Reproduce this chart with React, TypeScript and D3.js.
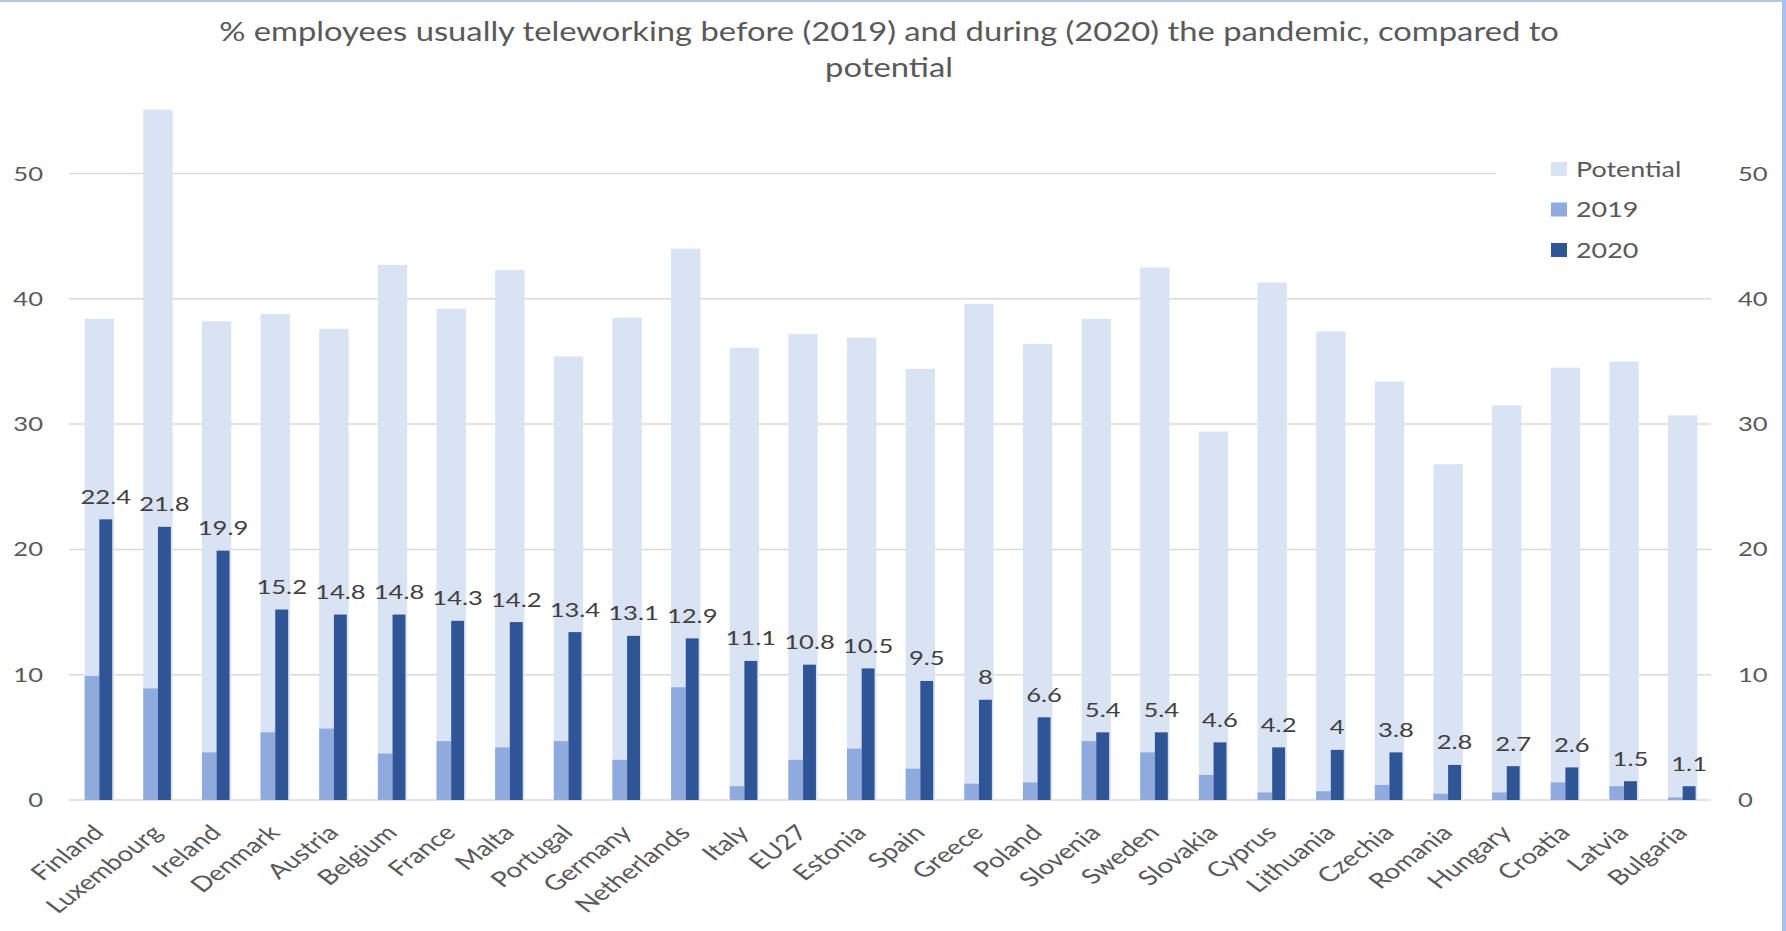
import React from "react";
import * as d3 from "d3";

// Share of employees teleworking, by country
const countries = [
  "Finland", "Luxembourg", "Ireland", "Denmark", "Austria", "Belgium", "France",
  "Malta", "Portugal", "Germany", "Netherlands", "Italy", "EU27", "Estonia",
  "Spain", "Greece", "Poland", "Slovenia", "Sweden", "Slovakia", "Cyprus",
  "Lithuania", "Czechia", "Romania", "Hungary", "Croatia", "Latvia", "Bulgaria",
];

const potential = [
  38.4, 55.1, 38.2, 38.8, 37.6, 42.7, 39.2, 42.3, 35.4, 38.5, 44.0, 36.1, 37.2, 36.9,
  34.4, 39.6, 36.4, 38.4, 42.5, 29.4, 41.3, 37.4, 33.4, 26.8, 31.5, 34.5, 35.0, 30.7,
];

const y2019 = [
  9.9, 8.9, 3.8, 5.4, 5.7, 3.7, 4.7, 4.2, 4.7, 3.2, 9.0, 1.1, 3.2, 4.1,
  2.5, 1.3, 1.4, 4.7, 3.8, 2.0, 0.6, 0.7, 1.2, 0.5, 0.6, 1.4, 1.1, 0.2,
];

const y2020 = [
  22.4, 21.8, 19.9, 15.2, 14.8, 14.8, 14.3, 14.2, 13.4, 13.1, 12.9, 11.1, 10.8, 10.5,
  9.5, 8, 6.6, 5.4, 5.4, 4.6, 4.2, 4, 3.8, 2.8, 2.7, 2.6, 1.5, 1.1,
];

const yTicks = [0, 10, 20, 30, 40, 50];

const titleLines = [
  "% employees usually teleworking before (2019) and during (2020) the pandemic, compared to",
  "potential",
];

const legendItems = ["Potential", "2019", "2020"];

const COLORS = {
  Potential: "#dae3f3",
  "2019": "#8faadc",
  "2020": "#2f5597",
};

const W = 1786;
const H = 931;
const FONT = "Lato, 'Open Sans', sans-serif";
const SX = 1.28; // horizontal text stretch
const TEXT = "#595959";

export default function App() {
  const x = d3.scaleBand<string>()
    .domain(countries)
    .range([70, 1712])
    .paddingInner(0.5)
    .paddingOuter(0.25);

  const y = d3.scaleLinear().domain([0, 50]).range([800, 173.5]);
  const bw = x.bandwidth();

  const gridLeft = 69;
  const gridRight = 1711;

  return (
    <svg
      width={W}
      height={H}
      style={{ position: "absolute", left: 0, top: 0, display: "block", background: "#fff" }}
      fontFamily={FONT}
    >
      <rect x={0} y={0} width={W} height={H} fill="#fff" />

      {/* title */}
      {titleLines.map((line, i) => (
        <text
          key={i}
          transform={`translate(889,${40.5 + i * 36.5}) scale(1.26,1)`}
          textAnchor="middle"
          fontSize={26}
          fill={TEXT}
        >
          {line}
        </text>
      ))}

      {/* gridlines */}
      {yTicks.map((t) => (
        <line
          key={t}
          x1={gridLeft}
          x2={gridRight}
          y1={y(t)}
          y2={y(t)}
          stroke="#d9d9d9"
          strokeWidth={1.5}
        />
      ))}

      {/* bars */}
      {countries.map((c, i) => {
        const x0 = x(c)!;
        return (
          <g key={c}>
            <rect x={x0} y={y(potential[i])} width={bw} height={y(0) - y(potential[i])} fill={COLORS.Potential} />
            <rect x={x0} y={y(y2019[i])} width={bw / 2} height={y(0) - y(y2019[i])} fill={COLORS["2019"]} />
            <rect x={x0 + bw / 2} y={y(y2020[i])} width={bw * 0.44} height={y(0) - y(y2020[i])} fill={COLORS["2020"]} />
          </g>
        );
      })}

      {/* 2020 value labels */}
      {countries.map((c, i) => {
        const cx = x(c)! + bw / 2 + (bw * 0.44) / 2;
        return (
          <text
            key={c}
            transform={`translate(${cx},${y(y2020[i]) - 15.5}) scale(${SX},1)`}
            textAnchor="middle"
            fontSize={20}
            fill="#404040"
          >
            {String(y2020[i])}
          </text>
        );
      })}

      {/* category labels */}
      {countries.map((c) => {
        const cx = x(c)! + bw / 2;
        return (
          <text
            key={c}
            transform={`translate(${cx + 6},834) scale(1.32,1) rotate(-45)`}
            textAnchor="end"
            fontSize={21}
            fill={TEXT}
          >
            {c}
          </text>
        );
      })}

      {/* left axis */}
      {yTicks.map((t) => (
        <text
          key={t}
          transform={`translate(43,${y(t) + 7}) scale(${SX},1)`}
          textAnchor="end"
          fontSize={20}
          fill={TEXT}
        >
          {t}
        </text>
      ))}

      {/* right axis */}
      {yTicks.map((t) => (
        <text
          key={t}
          transform={`translate(1738,${y(t) + 7}) scale(${SX},1)`}
          textAnchor="start"
          fontSize={20}
          fill={TEXT}
        >
          {t}
        </text>
      ))}

      {/* legend */}
      <rect x={1496} y={140} width={216} height={132} fill="#fff" />
      {legendItems.map((k, i) => {
        const cy = 169 + i * 40.5;
        return (
          <g key={k}>
            <rect x={1551} y={cy - 7} width={16} height={14} fill={COLORS[k as keyof typeof COLORS]} />
            <text
              transform={`translate(1576,${cy + 7.5}) scale(${SX},1)`}
              fontSize={21}
              fill={TEXT}
            >
              {k}
            </text>
          </g>
        );
      })}

      {/* frame edges */}
      <rect x={0} y={0} width={W} height={2} fill="#b4c7e7" />
      <rect x={1782} y={0} width={4} height={H} fill="#a9c1ea" />
    </svg>
  );
}
